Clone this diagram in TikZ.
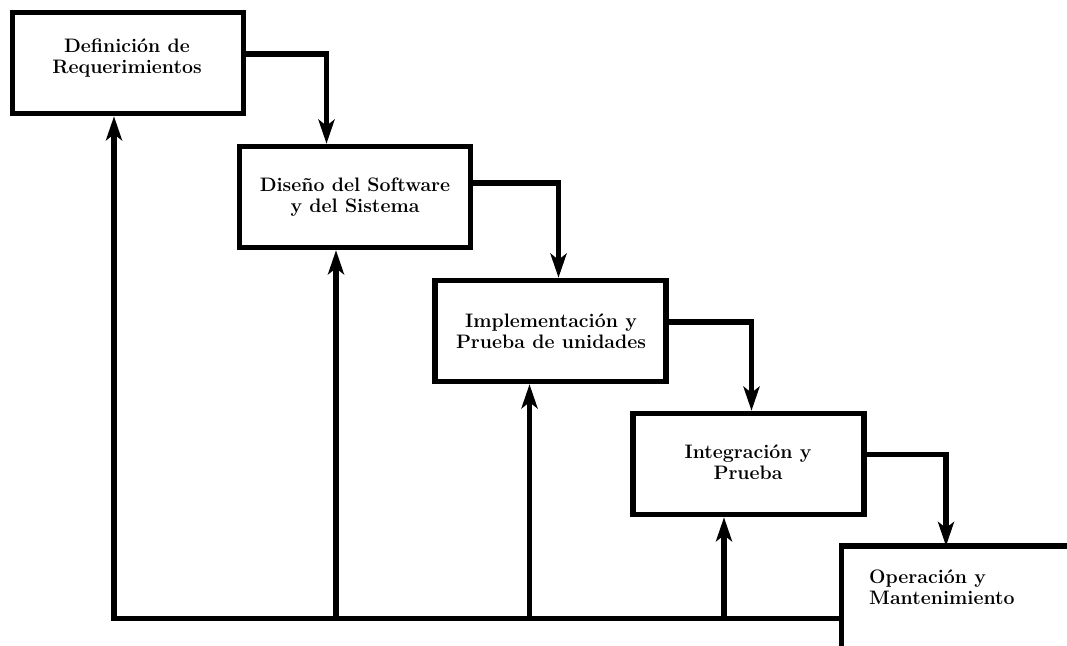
\documentclass[tikz,border=0pt]{standalone}
\usetikzlibrary{arrows.meta,calc}
\begin{document}
\begin{tikzpicture}[x=1pt,y=-1pt,
  box/.style={draw,line width=5.5pt,minimum width=231pt,minimum height=101pt,inner sep=0pt},
  txt/.style={font=\fontsize{19.5}{20.5}\selectfont\bfseries,align=center,inner sep=0pt},
  flow/.style={line width=5.5pt,-{Stealth[length=24pt,width=16pt,inset=6pt]}},
  plain/.style={line width=5.5pt}]
\useasboundingbox (0,0) rectangle (1067,645);
% boxes
\node[box] (b1) at (128,63) {};
\node[box] (b2) at (355,197) {};
\node[box] (b3) at (550.5,331) {};
\node[box] (b4) at (748.5,464) {};
\coordinate (b5c) at (841.5,546);
\draw[plain] (841.5,652) -- (b5c) -- (1072,546);
% texts
\node[txt] (t1) at (127,58) {Definición de\\Requerimientos};
\node[txt] (t2) at (355,197) {Diseño del Software\\y del Sistema};
\node[txt] (t3) at (551,331) {Implementación y\\Prueba de unidades};
\node[txt] (t4) at (748,462) {Integración y\\Prueba};
\node[txt,anchor=west,align=left] (t5) at (869,587) {Operación y\\Mantenimiento};
% forward flow
\draw[flow] (b1.east |- 0,54) -| (b2.north -| 326.5,0);
\draw[flow] (b2.east |- 0,183) -| (b3.north -| 558.5,0);
\draw[flow] (b3.east |- 0,322) -| (b4.north -| 751.5,0);
\draw[flow] (b4.east |- 0,454.5) -| (b5c -| 946,0);
% feedback
\coordinate (fb) at (114,618.5);
\draw[flow] (b5c |- fb) -- (fb) -- (b1.south -| fb);
\draw[flow] (fb -| 336,0) -- (b2.south -| 336,0);
\draw[flow] (fb -| 529.5,0) -- (b3.south -| 529.5,0);
\draw[flow] (fb -| 724,0) -- (b4.south -| 724,0);
\end{tikzpicture}
\end{document}
